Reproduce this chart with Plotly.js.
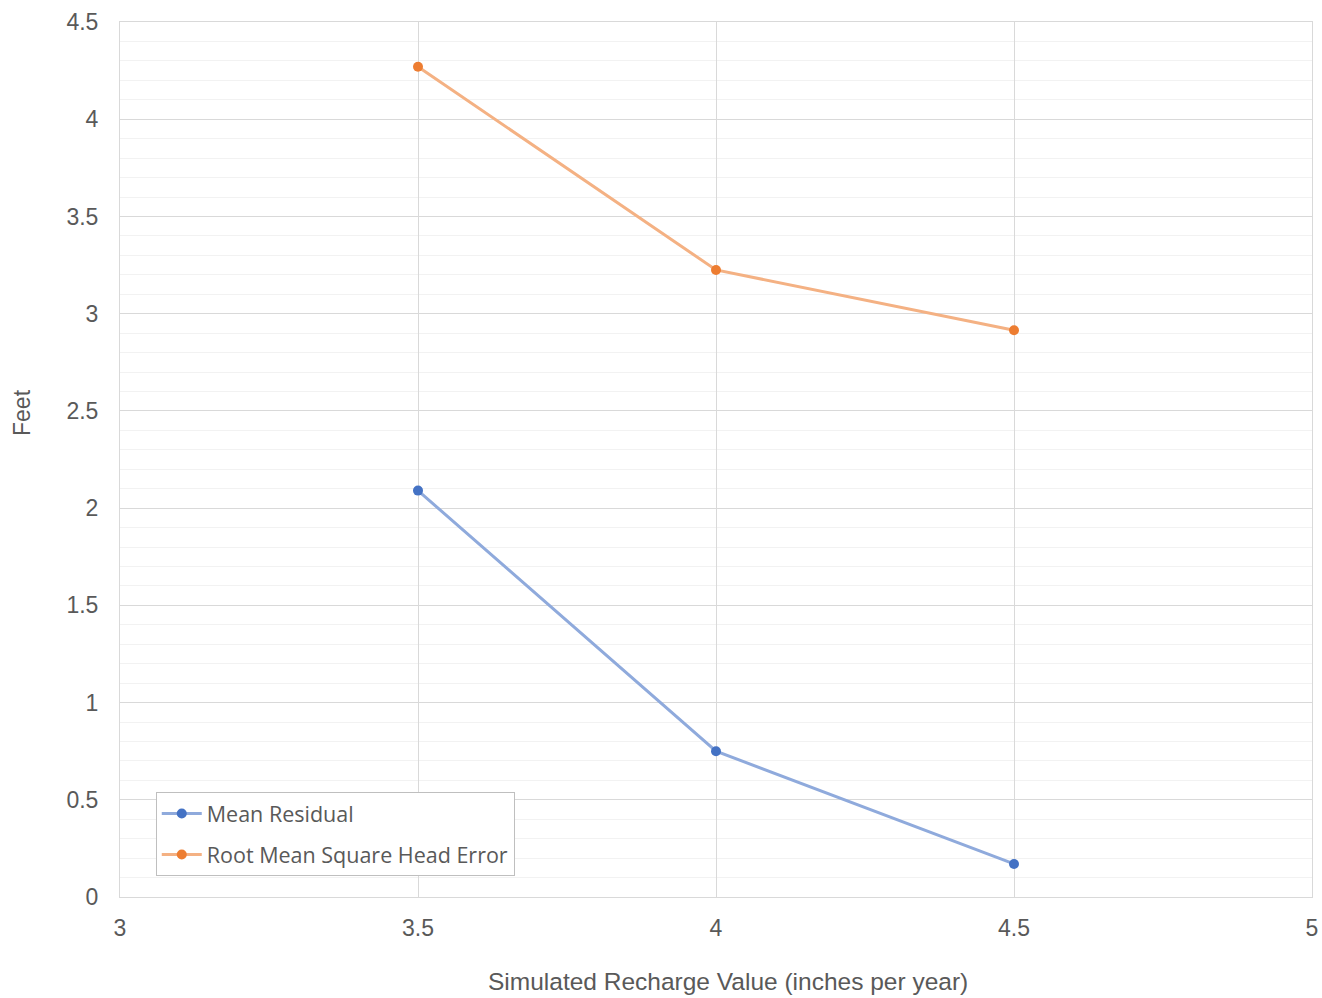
<!DOCTYPE html>
<html>
<head>
<meta charset="utf-8">
<script src="https://cdn.plot.ly/plotly-3.0.1.min.js"></script>
<style>html,body{margin:0;padding:0;background:#fff;}#chart{width:1322px;height:998px;}</style>
</head>
<body>
<div id="chart"></div>
<script>
const rechargeValues = [3.5, 4, 4.5];
const meanResidual = [2.09, 0.75, 0.17];
const rmsHeadError = [4.27, 3.225, 2.915];
const seriesNames = ["Mean Residual", "Root Mean Square Head Error"];
const xTitle = "Simulated Recharge Value (inches per year)";
const yTitle = "Feet";

const traces = [
  {
    x: rechargeValues, y: meanResidual, name: seriesNames[0], legendgroup: "a",
    type: "scatter", mode: "lines+markers",
    line: {color: "#8FAADC", width: 3},
    marker: {color: "#4472C4", size: 10}
  },
  {
    x: rechargeValues, y: rmsHeadError, name: seriesNames[1], legendgroup: "b",
    type: "scatter", mode: "lines+markers",
    line: {color: "#F4B183", width: 3},
    marker: {color: "#ED7D31", size: 10}
  }
];

const layout = {
  width: 1322, height: 998,
  margin: {l: 120, r: 10, t: 22, b: 101},
  paper_bgcolor: "#fff", plot_bgcolor: "#fff",
  font: {family: "Liberation Sans, Arial, sans-serif", color: "#595959", size: 23},
  showlegend: true,
  legend: {
    x: 0.030, y: 0.024, xanchor: "left", yanchor: "bottom",
    bgcolor: "#fff", bordercolor: "#BFBFBF", borderwidth: 1,
    font: {family: "Open Sans, Noto Sans, sans-serif", size: 21.5, color: "#595959"},
    itemwidth: 40,
    tracegroupgap: 10
  },
  xaxis: {
    range: [3, 5], dtick: 0.5, tick0: 3,
    showgrid: true, gridcolor: "#D9D9D9", gridwidth: 1,
    zeroline: false, showline: true, linecolor: "#D9D9D9", mirror: true,
    ticks: "", ticklabelstandoff: 10,
    tickfont: {size: 23, color: "#595959"}
  },
  yaxis: {
    range: [0, 4.5], dtick: 0.5, tick0: 0,
    showgrid: true, gridcolor: "#D9D9D9", gridwidth: 1,
    minor: {dtick: 0.1, showgrid: true, gridcolor: "#F2F2F2", gridwidth: 1, ticks: ""},
    zeroline: false, showline: true, linecolor: "#D9D9D9", mirror: true,
    ticks: "", ticklabelstandoff: 16,
    tickfont: {size: 23, color: "#595959"}
  },
  annotations: [
    {text: xTitle, xref: "paper", yref: "paper", x: (728 - 120) / 1192, y: -(981 - 897) / 875,
     xanchor: "center", yanchor: "middle", showarrow: false,
     font: {size: 24.5, color: "#595959"}},
    {text: yTitle, xref: "paper", yref: "paper", x: -(120 - 22) / 1192, y: (897 - 412) / 875,
     xanchor: "center", yanchor: "middle", showarrow: false, textangle: -90,
     font: {size: 23, color: "#595959"}}
  ]
};

Plotly.newPlot("chart", traces, layout, {displayModeBar: false});
</script>
</body>
</html>
